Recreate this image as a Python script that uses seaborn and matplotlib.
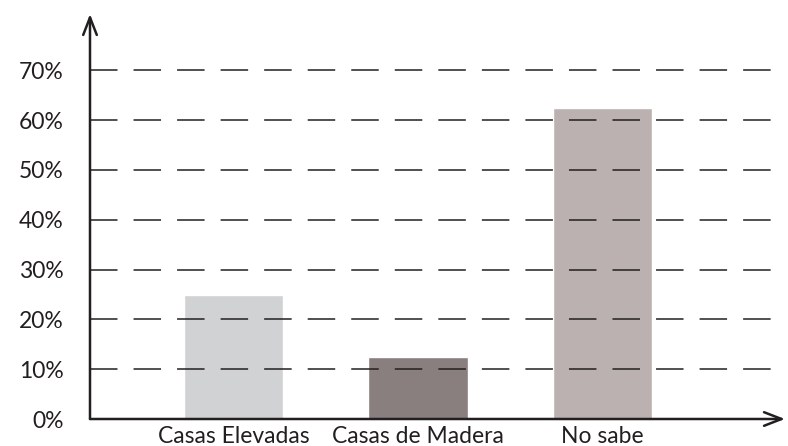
import matplotlib
matplotlib.use("Agg")
import matplotlib.pyplot as plt
import seaborn as sns
import pandas as pd

categories = ["Casas Elevadas", "Casas de Madera", "No sabe"]
values = [25.0, 12.5, 62.5]
colors = ["#d1d2d4", "#8a7f7f", "#bbb1b0"]
yticks = [0, 10, 20, 30, 40, 50, 60, 70]
ytick_labels = ["0%", "10%", "20%", "30%", "40%", "50%", "60%", "70%"]

sns.set_style("white")
plt.rcParams["font.family"] = ["Lato", "DejaVu Sans"]

fig = plt.figure(figsize=(7.88, 4.46), dpi=100)
ax = fig.add_axes([90/788, (446-419)/446, (785-90)/788, (419-14)/446])

df = pd.DataFrame({"cat": categories, "val": values})
sns.barplot(data=df, x="cat", y="val", hue="cat", palette=colors,
            legend=False, width=0.54, ax=ax, zorder=1, saturation=1)

ax.set_xlim(-0.778, 2.989)
ax.set_ylim(0, (419-14)/4.98)

ink = "#231f20"
for t in yticks[1:]:
    ax.axhline(t, xmin=0, xmax=(772-90)/695, color=ink, lw=1.1,
               linestyle=(0, (18, 10.5)), zorder=3)

for s in ax.spines.values():
    s.set_visible(False)

# axes with arrows
for end in [(1.0, 0), (0, 1.0)]:
    ax.annotate("", xy=end, xytext=(0, 0), xycoords="axes fraction",
                arrowprops=dict(arrowstyle="->,head_length=0.9,head_width=0.35",
                                color=ink, lw=1.8, shrinkA=0, shrinkB=0,
                                mutation_scale=14),
                annotation_clip=False, zorder=5)

ax.set_yticks(yticks)
ax.set_yticklabels(ytick_labels, fontsize=16.5, color=ink)
ax.tick_params(axis="y", length=0, pad=19)
ax.tick_params(axis="x", length=0, pad=5, labelsize=16.5, labelcolor=ink)
ax.set_xlabel("")
ax.set_ylabel("")

fig.savefig("out.png", dpi=100)
